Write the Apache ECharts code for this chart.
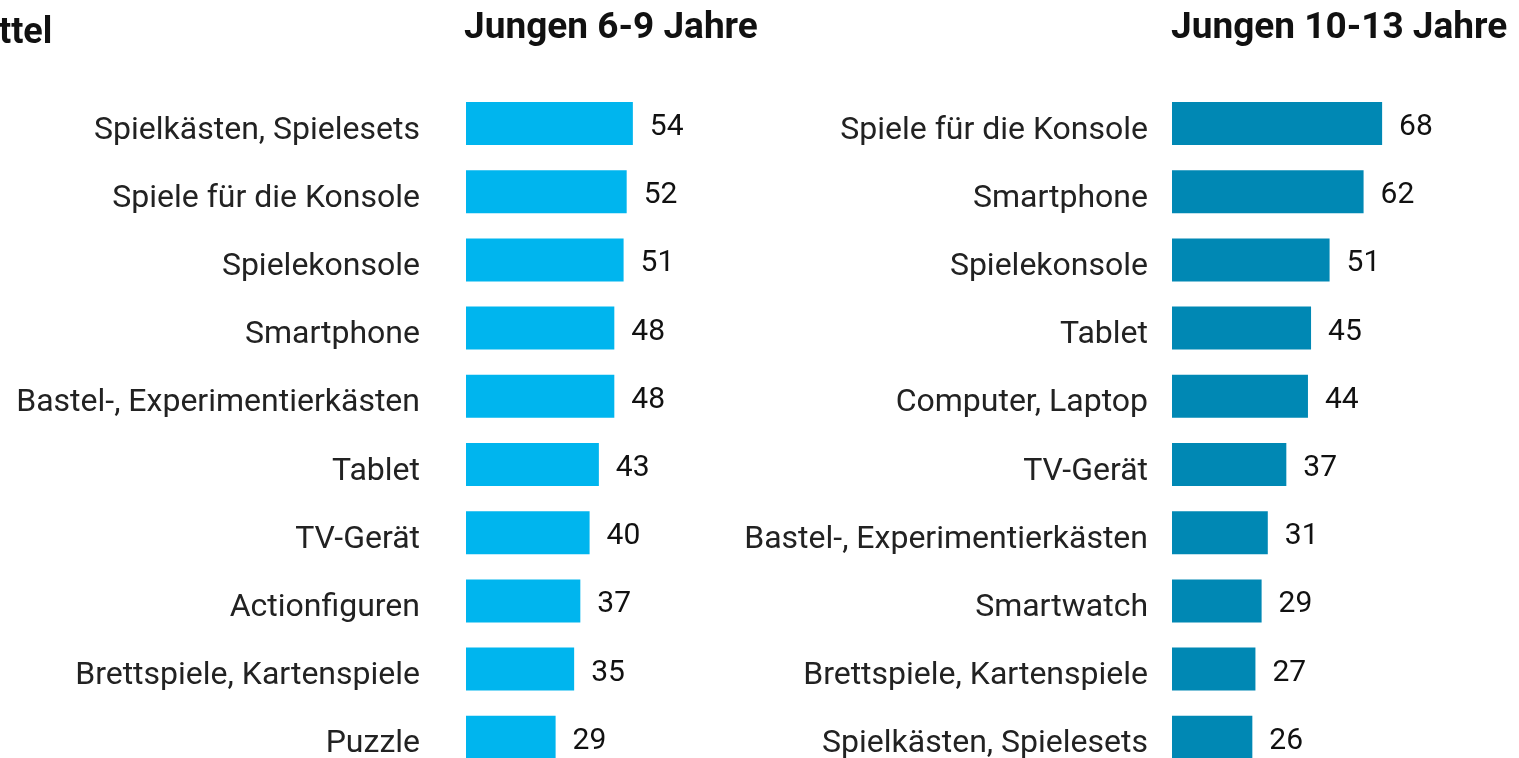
<!DOCTYPE html>
<html><head><meta charset="utf-8">
<script src="https://cdn.jsdelivr.net/npm/echarts@6/dist/echarts.min.js"></script>
<style>html,body{margin:0;padding:0;background:#fff}#c{width:1519px;height:758px}</style>
</head><body><div id="c"></div>
<script>
const leftTitle = "Jungen 6-9 Jahre";
const rightTitle = "Jungen 10-13 Jahre";
const cutHeader = "ttel";
const leftCategories = ["Spielkästen, Spielesets","Spiele für die Konsole","Spielekonsole","Smartphone","Bastel-, Experimentierkästen","Tablet","TV-Gerät","Actionfiguren","Brettspiele, Kartenspiele","Puzzle"];
const leftValues = [54,52,51,48,48,43,40,37,35,29];
const rightCategories = ["Spiele für die Konsole","Smartphone","Spielekonsole","Tablet","Computer, Laptop","TV-Gerät","Bastel-, Experimentierkästen","Smartwatch","Brettspiele, Kartenspiele","Spielkästen, Spielesets"];
const rightValues = [68,62,51,45,44,37,31,29,27,26];

const FONT = 'Roboto';
const chart = echarts.init(document.getElementById('c'), null, {renderer:'canvas'});
function yAx(idx, cats, margin){
  return {type:'category', gridIndex:idx, data:cats, inverse:true,
    axisLine:{show:false}, axisTick:{show:false}, splitLine:{show:false},
    axisLabel:{margin:margin, fontFamily:FONT, fontSize:32, color:'#222', verticalAlign:'top', lineHeight:14}};
}
function xAx(idx){
  return {type:'value', gridIndex:idx, min:0, max:100, show:false, splitLine:{show:false}};
}
function ser(idx, vals, color){
  return {type:'bar', xAxisIndex:idx, yAxisIndex:idx, data:vals, barWidth:43,
    itemStyle:{color:color},
    label:{show:true, position:'right', distance:17, fontFamily:FONT, fontSize:30, color:'#111', offset:[0,4]},
    silent:true, animation:false};
}
chart.setOption({
  animation:false,
  textStyle:{fontFamily:FONT},
  grid:[
    {left:466, width:309, top:89.4, height:682, containLabel:false, outerBoundsMode:'none'},
    {left:1172, width:309, top:89.4, height:682, containLabel:false, outerBoundsMode:'none'}
  ],
  xAxis:[xAx(0), xAx(1)],
  yAxis:[yAx(0, leftCategories, 46), yAx(1, rightCategories, 24)],
  series:[ser(0, leftValues, '#00b5ee'), ser(1, rightValues, '#0088b4')],
  graphic:[
    {type:'text', left:464, top:10, style:{text:leftTitle, font:'bold 37px Roboto', fill:'#111'}},
    {type:'text', left:1171, top:10, style:{text:rightTitle, font:'bold 37px Roboto', fill:'#111'}},
    {type:'text', left:-1, top:16, style:{text:cutHeader, font:'bold 36px Roboto', fill:'#111'}}
  ]
});
</script></body></html>
